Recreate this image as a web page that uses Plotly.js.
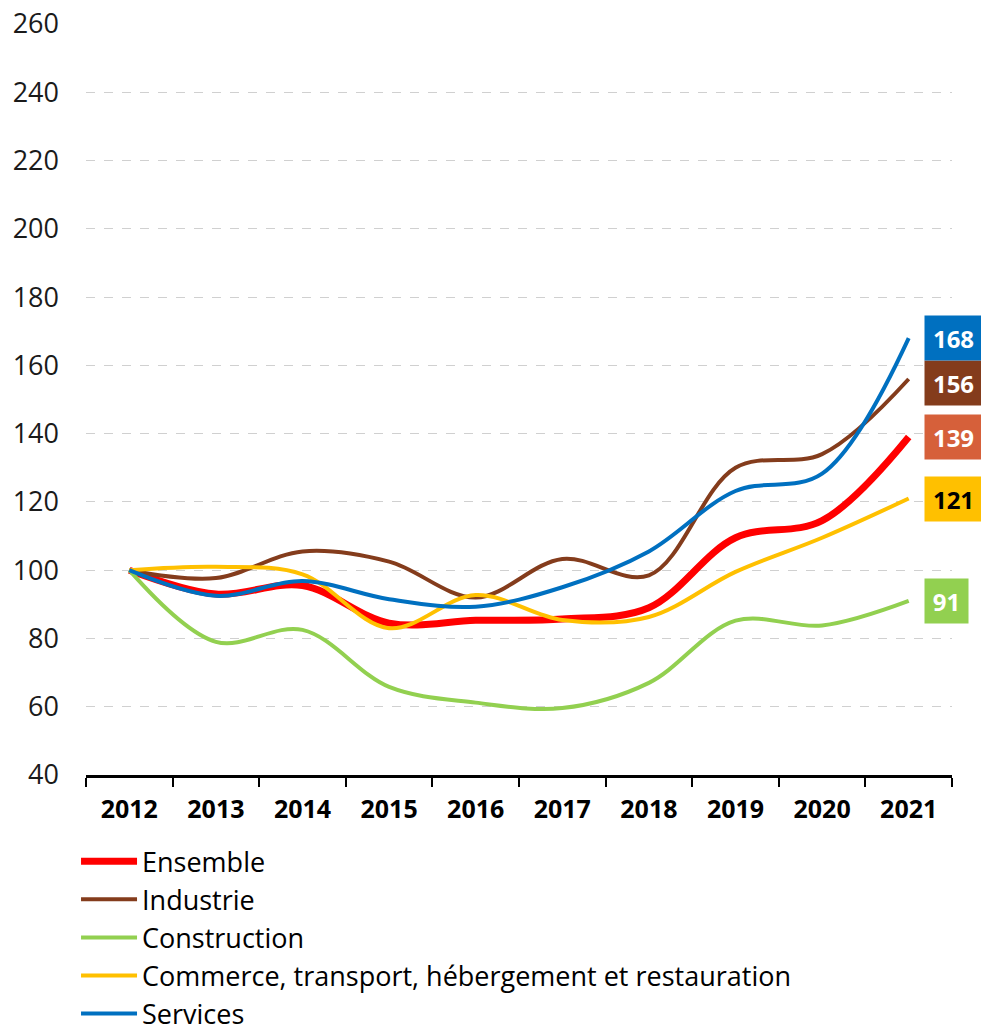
<!DOCTYPE html>
<html>
<head>
<meta charset="utf-8">
<script src="https://cdn.plot.ly/plotly-3.0.1.min.js"></script>
<style>
html,body{margin:0;padding:0;background:#fff;}
#chart{width:981px;height:1031px;}
</style>
</head>
<body>
<div id="chart"></div>
<script>
var years = ['2012','2013','2014','2015','2016','2017','2018','2019','2020','2021'];

var ensemble     = [100, 93.0, 95.5, 84.5, 85.3, 85.7, 89.0, 109.5, 114.5, 139];
var industrie    = [100, 97.7, 105.5, 102.5, 92.0, 103.3, 98.5, 130.0, 134.0, 156];
var construction = [100, 79.0, 82.5, 65.8, 61.2, 59.6, 67.0, 85.2, 83.8, 91];
var commerce     = [100, 101.0, 98.8, 83.0, 92.7, 85.4, 86.3, 99.5, 109.5, 121];
var services     = [100, 92.5, 96.8, 91.5, 89.3, 95.0, 105.5, 123.2, 128.3, 168];

var seriesNames = ['Ensemble', 'Industrie', 'Construction',
  'Commerce, transport, hébergement et restauration', 'Services'];
var endLabels = ['139', '156', '91', '121', '168'];

var FONT = 'Open Sans, Noto Sans, sans-serif';
var series = [ensemble, industrie, construction, commerce, services];
var colors = ['#FF0000', '#843C1C', '#92D050', '#FFC000', '#0070C0'];
var widths = [7, 4, 4, 4, 4];
var labelBg = ['#D6603A', '#843C1C', '#92D050', '#FFC000', '#0070C0'];
var labelFg = ['#FFFFFF', '#FFFFFF', '#FFFFFF', '#000000', '#FFFFFF'];
var labelYShift = [0, -4, 0, 0, 0];

var traces = series.map(function (vals, i) {
  return {
    type: 'scatter',
    mode: 'lines',
    x: years,
    y: vals,
    name: seriesNames[i],
    line: {color: colors[i], width: widths[i], shape: 'spline', smoothing: 1},
    hoverinfo: 'x+y+name'
  };
});

var lastIdx = years.length - 1;
var annotations = series.map(function (vals, i) {
  var last = vals[vals.length - 1];
  var txt = endLabels[i];
  return {
    x: lastIdx,
    y: last,
    xref: 'x', yref: 'y',
    text: '<b>' + txt + '</b>',
    showarrow: false,
    xanchor: 'left',
    yanchor: 'middle',
    xshift: 15,
    yshift: labelYShift[i],
    bgcolor: labelBg[i],
    borderpad: 6,
    font: {family: FONT, size: 24, color: labelFg[i]},
    width: 3 + 14 * txt.length,
    height: 32
  };
});

var layout = {
  width: 981,
  height: 1031,
  paper_bgcolor: '#ffffff',
  plot_bgcolor: '#ffffff',
  margin: {l: 86, r: 29, t: 24, b: 256, pad: 0, autoexpand: false},
  font: {family: FONT, color: '#000000'},
  showlegend: true,
  legend: {
    orientation: 'v',
    xref: 'container', yref: 'container',
    x: 0.0775, xanchor: 'left',
    y: 0.188, yanchor: 'top',
    font: {family: FONT, size: 27, color: '#000000'},
    bgcolor: 'rgba(0,0,0,0)',
    itemwidth: 56,
    tracegroupgap: 0,
    itemclick: false
  },
  xaxis: {
    type: 'category',
    range: [-0.5, 9.5],
    tickson: 'boundaries',
    ticks: 'outside',
    ticklen: 9,
    tickwidth: 2,
    tickcolor: '#000000',
    showline: true,
    linecolor: '#000000',
    linewidth: 3,
    showgrid: false,
    zeroline: false,
    tickfont: {family: FONT, size: 25, color: '#000000', weight: 'bold'},
    ticklabelstandoff: 10,
    fixedrange: true
  },
  yaxis: {
    range: [40, 260],
    dtick: 20,
    tick0: 40,
    showline: false,
    zeroline: false,
    showgrid: true,
    gridcolor: '#D0D0D0',
    griddash: 'dash',
    gridwidth: 1,
    ticks: '',
    tickfont: {family: FONT, size: 27, color: '#1a1a1a'},
    ticklabelstandoff: 26,
    fixedrange: true
  },
  annotations: annotations
};

Plotly.newPlot('chart', traces, layout, {displayModeBar: false, staticPlot: true});
</script>
</body>
</html>
